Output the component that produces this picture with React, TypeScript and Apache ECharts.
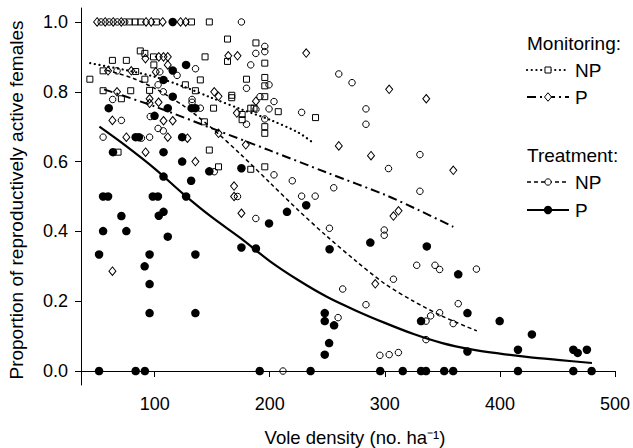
import React, { useEffect, useRef } from "react";
import * as echarts from "echarts";

// ---- data (vole density, proportion of reproductively active females) ----
const xTicks = [100, 200, 300, 400, 500];
const yTicks = [0, 0.2, 0.4, 0.6, 0.8, 1.0];

// Monitoring, NP (open squares)
const monNP: number[][] = [
  [78, 1], [83, 1], [88, 1], [101.5, 1], [132, 1], [147.5, 1],
  [43.7, 0.836], [55.2, 0.86], [63.3, 0.89], [75.4, 0.89], [55.2, 0.803], [71.1, 0.78],
  [79.2, 0.803], [83.5, 0.858], [87.5, 0.917], [91.5, 0.91], [99, 0.9], [91.5, 0.836],
  [95.6, 0.804], [99.3, 0.877], [126.7, 0.82], [135.4, 0.803], [139.7, 0.834], [143.8, 0.9],
  [151.2, 0.753], [143.2, 0.714], [163.3, 0.951], [163.3, 0.887], [167, 0.79], [167, 0.783],
  [179.8, 0.836], [183.5, 0.753], [186.4, 0.753], [188, 0.94], [195.7, 0.882], [195.7, 0.841],
  [195.7, 0.817], [195.7, 0.786], [207.4, 0.743], [239.8, 0.726], [195.7, 0.7], [195.7, 0.681],
  [176, 0.735], [176, 0.72], [68.2, 0.627], [147.5, 0.633], [155.5, 0.585], [183.5, 0.578],
  [195.7, 0.585],
];

// Monitoring, P (open diamonds)
const monP: number[][] = [
  [50, 1], [57, 1], [64, 1], [71, 1], [92.5, 1], [97, 1], [107, 1], [122.5, 1], [127, 1],
  [59.5, 0.86], [79.7, 0.86], [101, 0.857], [92, 0.895], [103.6, 0.9], [107.7, 0.9],
  [111.4, 0.9], [111.4, 0.877], [67.3, 0.8], [63.3, 0.718], [75.4, 0.67], [111.4, 0.67],
  [128.5, 0.667], [92.1, 0.627], [135.4, 0.6], [63.3, 0.286], [95.6, 0.78], [95.6, 0.767],
  [103.4, 0.77], [107.7, 0.717], [115.7, 0.717], [151.8, 0.8], [155.5, 0.787], [155.5, 0.681],
  [164, 0.903], [172, 0.903], [169, 0.53], [169, 0.5], [175.4, 0.452], [179.2, 0.648],
  [171.4, 0.739], [188, 0.773], [231.7, 0.911], [260, 0.645], [288, 0.617], [291.7, 0.25],
  [303.8, 0.807], [307.5, 0.444], [311.9, 0.459], [336, 0.78], [359.5, 0.575],
];

// Treatment, NP (open circles)
const trtNP: number[][] = [
  [53.5, 1], [60.5, 1], [67.5, 1], [74, 1], [175.4, 1],
  [55.2, 0.67], [63.5, 0.778], [71.1, 0.718], [67.3, 0.86], [88.5, 0.667], [95.6, 0.67],
  [96.2, 0.729], [103, 0.695], [107.5, 0.688], [107.5, 0.8], [103, 0.82], [104.5, 0.857],
  [119.5, 0.847], [135.5, 0.866], [132.5, 0.778], [132.5, 0.77], [139.7, 0.753],
  [151.8, 0.571], [172, 0.5], [179.8, 0.81], [179.8, 0.707], [183.5, 0.877], [187.9, 0.91],
  [187.9, 0.437], [195.7, 0.93], [195.7, 0.915], [191.5, 0.786], [188, 0.75], [195.7, 0.722],
  [199.4, 0.82], [199.4, 0.751], [203.7, 0.772], [203.7, 0.562], [211.5, 0], [219.6, 0.545],
  [227.7, 0.741], [227.7, 0.501], [239.5, 0.501], [255.6, 0.525], [251.9, 0.409], [260, 0.851],
  [271.5, 0.826], [283.6, 0.751], [283.6, 0.707], [283.6, 0.19], [263.4, 0.235], [259.4, 0.153],
  [299.5, 0.404], [299.5, 0.389], [303.2, 0.58], [307.5, 0.263], [295.7, 0.045], [303.8, 0.047],
  [311.8, 0.053], [327.7, 0.303], [330.5, 0.62], [330.5, 0.515], [335.8, 0.143], [339.8, 0.158],
  [335.8, 0.09], [343.6, 0.303], [347.6, 0.291], [347.6, 0.167], [359.4, 0.136], [363.8, 0.193],
  [379.6, 0.292],
];

// Treatment, P (filled circles)
const trtP: number[][] = [
  [51.7, 0], [83.5, 0], [91.5, 0], [51.7, 0.334], [55.2, 0.401], [55.2, 0.5], [59.5, 0.5],
  [60.1, 0.753], [63.8, 0.627], [71.1, 0.444], [75.4, 0.401], [83.5, 0.67], [86.3, 0.67],
  [91.3, 0.3], [95.6, 0.334], [95.6, 0.249], [95.6, 0.166], [98.4, 0.5], [102.8, 0.5],
  [99.9, 0.731], [103.6, 0.445], [107.7, 0.456], [107.7, 0.627], [107.7, 0.557], [107.7, 0.834],
  [111.4, 0.385], [111.4, 0.753], [115.7, 1.0], [115.7, 0.861], [115.7, 0.786], [123.9, 0.67],
  [123.9, 0.6], [127.3, 0.877], [127.3, 0.5], [131.7, 0.545], [132.2, 0.753], [135.4, 0.753],
  [135.4, 0.334], [135.4, 0.166], [147.5, 0.572], [175.4, 0.581], [175.4, 0.354], [188, 0.351],
  [191.3, 0], [199.4, 0.423], [215, 0.456], [231.7, 0.475], [235.5, 0], [247.8, 0.166],
  [247.8, 0.143], [247.8, 0.047], [251.6, 0.08], [252, 0.349], [255.9, 0.131], [287.4, 0.368],
  [296, 0], [315.6, 0], [331.5, 0.143], [331.5, 0], [335.8, 0], [336.5, 0.357], [351.6, 0],
  [359.4, 0], [363.8, 0.277], [371.8, 0.166], [371.8, 0.056], [399.8, 0.143], [415.7, 0.061],
  [415.7, 0], [427.8, 0.105], [463.8, 0.061], [467.6, 0.052], [475.6, 0.061], [463.8, 0],
  [479.7, 0],
];

// fitted curves
const fitMonNP: number[][] = [
  [44, 0.882], [75, 0.862], [100, 0.843], [125, 0.815], [150, 0.782], [175, 0.75],
  [200, 0.72], [225, 0.683], [236, 0.658],
];
const fitMonP: number[][] = [
  [56, 0.807], [100, 0.758], [150, 0.695], [200, 0.632], [250, 0.568], [300, 0.505],
  [330, 0.46], [359.5, 0.413],
];
const fitTrtNP: number[][] = [
  [58, 0.862], [80, 0.84], [100, 0.81], [125, 0.76], [150, 0.695], [175, 0.62], [200, 0.54],
  [225, 0.46], [250, 0.385], [275, 0.315], [300, 0.25], [325, 0.2], [350, 0.157], [380, 0.115],
];
const fitTrtP: number[][] = [
  [52, 0.7], [75, 0.645], [100, 0.58], [125, 0.507], [150, 0.44], [175, 0.38], [200, 0.315],
  [225, 0.26], [250, 0.212], [275, 0.173], [300, 0.138], [325, 0.106], [350, 0.08],
  [375, 0.062], [400, 0.05], [425, 0.04], [450, 0.032], [480, 0.023],
];

const FONT = "Liberation Sans, Arial, Helvetica, sans-serif";
const INK = "#000";

export default function App() {
  const ref = useRef<HTMLDivElement>(null);
  useEffect(() => {
    if (!ref.current) return;
    const chart = echarts.init(ref.current, undefined, { renderer: "svg" });

    const open = { color: "rgba(255,255,255,0)", borderColor: INK, borderWidth: 1, opacity: 1 };
    const lgX0 = 527, lgX1 = 569, lgSym = 548, lgText = 575;
    const rowY = { mon: 43, mNP: 70, mP: 97, trt: 155, tNP: 182, tP: 210 };
    const lgFont = `19px ${FONT}`;
    const dotted = { width: 2.2, type: [0.1, 4.6], cap: "round" };
    const dashDot = { width: 2, type: [9, 4, 2, 4] };
    const dashed = { width: 1.5, type: [4, 3] };

    chart.setOption({
      animation: false,
      backgroundColor: "#fff",
      grid: { left: 81, right: 16, top: 8, bottom: 63, containLabel: false },
      xAxis: {
        type: "value",
        min: 36,
        max: 500,
        axisLine: { show: true, lineStyle: { color: INK, width: 1 } },
        axisTick: { show: true, length: 6, customValues: xTicks, lineStyle: { color: INK } },
        axisLabel: {
          customValues: xTicks,
          margin: 10,
          color: INK,
          fontSize: 18,
          fontFamily: FONT,
        },
        splitLine: { show: false },
      },
      yAxis: {
        type: "value",
        min: -0.04,
        max: 1.04,
        axisLine: { show: true, lineStyle: { color: INK, width: 1 } },
        axisTick: { show: true, length: 6, customValues: yTicks, lineStyle: { color: INK } },
        axisLabel: {
          customValues: yTicks,
          margin: 13,
          color: INK,
          fontSize: 18,
          fontFamily: FONT,
          formatter: (v: number) => v.toFixed(1),
        },
        splitLine: { show: false },
      },
      series: [
        { type: "line", data: fitMonNP, smooth: 0.3, showSymbol: false, z: 3,
          lineStyle: { color: INK, ...dotted } },
        { type: "line", data: fitMonP, smooth: 0.3, showSymbol: false, z: 3,
          lineStyle: { color: INK, ...dashDot } },
        { type: "line", data: fitTrtNP, smooth: 0.3, showSymbol: false, z: 3,
          lineStyle: { color: INK, ...dashed } },
        { type: "line", data: fitTrtP, smooth: 0.3, showSymbol: false, z: 3,
          lineStyle: { color: INK, width: 2.2 } },
        { type: "scatter", data: monNP, symbol: "rect", symbolSize: 6, itemStyle: open, z: 4 },
        { type: "scatter", data: monP, symbol: "diamond", symbolSize: [7, 8.5], itemStyle: open, z: 4 },
        { type: "scatter", data: trtNP, symbol: "circle", symbolSize: 6.5, itemStyle: open, z: 4 },
        { type: "scatter", data: trtP, symbol: "circle", symbolSize: 8.5,
          itemStyle: { color: INK, opacity: 1 }, z: 4 },
      ],
      graphic: [
        { type: "text", x: 16, y: 200, rotation: Math.PI / 2,
          style: { text: "Proportion of reproductively active females", font: `19px ${FONT}`,
            fill: INK, align: "center", verticalAlign: "middle" } },
        { type: "text", x: 355, y: 437,
          style: { text: "Vole density (no. ha⁻¹)", font: `18.5px ${FONT}`, fill: INK,
            align: "center", verticalAlign: "middle" } },
        // legend
        { type: "text", x: lgX0, y: rowY.mon,
          style: { text: "Monitoring:", font: lgFont, fill: INK, align: "left", verticalAlign: "middle" } },
        { type: "line", shape: { x1: lgX0, y1: rowY.mNP, x2: lgX1, y2: rowY.mNP },
          style: { stroke: INK, lineWidth: 2.2, lineDash: [0.1, 4.6], lineCap: "round" } },
        { type: "rect", shape: { x: lgSym - 3, y: rowY.mNP - 3, width: 6, height: 6 },
          style: { fill: "#fff", stroke: INK, lineWidth: 1 } },
        { type: "text", x: lgText, y: rowY.mNP,
          style: { text: "NP", font: lgFont, fill: INK, align: "left", verticalAlign: "middle" } },
        { type: "line", shape: { x1: lgX0, y1: rowY.mP, x2: lgX1, y2: rowY.mP },
          style: { stroke: INK, lineWidth: 2, lineDash: [9, 4, 2, 4] } },
        { type: "polygon",
          shape: { points: [[lgSym, rowY.mP - 4.25], [lgSym + 3.5, rowY.mP], [lgSym, rowY.mP + 4.25], [lgSym - 3.5, rowY.mP]] },
          style: { fill: "#fff", stroke: INK, lineWidth: 1 } },
        { type: "text", x: lgText, y: rowY.mP,
          style: { text: "P", font: lgFont, fill: INK, align: "left", verticalAlign: "middle" } },
        { type: "text", x: lgX0, y: rowY.trt,
          style: { text: "Treatment:", font: lgFont, fill: INK, align: "left", verticalAlign: "middle" } },
        { type: "line", shape: { x1: lgX0, y1: rowY.tNP, x2: lgX1, y2: rowY.tNP },
          style: { stroke: INK, lineWidth: 1.5, lineDash: [4, 3] } },
        { type: "circle", shape: { cx: lgSym, cy: rowY.tNP, r: 3.2 },
          style: { fill: "#fff", stroke: INK, lineWidth: 1 } },
        { type: "text", x: lgText, y: rowY.tNP,
          style: { text: "NP", font: lgFont, fill: INK, align: "left", verticalAlign: "middle" } },
        { type: "line", shape: { x1: lgX0, y1: rowY.tP, x2: lgX1, y2: rowY.tP },
          style: { stroke: INK, lineWidth: 2.2 } },
        { type: "circle", shape: { cx: lgSym, cy: rowY.tP, r: 4.2 },
          style: { fill: INK, stroke: INK, lineWidth: 0 } },
        { type: "text", x: lgText, y: rowY.tP,
          style: { text: "P", font: lgFont, fill: INK, align: "left", verticalAlign: "middle" } },
      ],
    });
    return () => chart.dispose();
  }, []);

  return (
    <div
      ref={ref}
      style={{ position: "absolute", left: 0, top: 0, width: 633, height: 448, background: "#fff" }}
    />
  );
}
